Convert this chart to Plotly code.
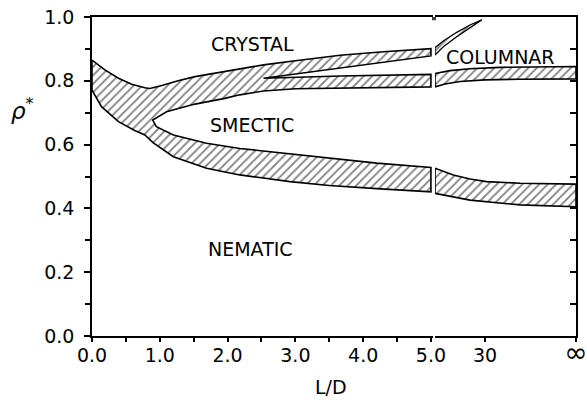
import plotly.graph_objects as go

# ---------------- data ----------------
# Left section: L/D from 0 to 5 (linear)
crys_x   = [0, 0.19, 0.39, 0.585, 0.78, 0.855, 1.03, 1.27, 1.52, 1.96, 2.18, 2.53, 3.0, 3.66, 4.3, 5.0]
crys_rho = [0.865, 0.834, 0.808, 0.789, 0.778, 0.776, 0.785, 0.800, 0.813, 0.829, 0.837, 0.850, 0.863, 0.880, 0.891, 0.901]

colt_x   = [2.53, 3.66, 5.0]          # upper edge of columnar wedge
colt_rho = [0.808, 0.840, 0.878]
colb_x   = [2.53, 3.66, 5.0]          # lower edge of columnar wedge
colb_rho = [0.808, 0.815, 0.820]

smt_x    = [0.895, 1.1, 1.3, 1.52, 1.96, 2.18, 2.53, 3.0, 4.0, 5.0]   # smectic upper boundary
smt_rho  = [0.677, 0.703, 0.715, 0.727, 0.745, 0.756, 0.768, 0.775, 0.779, 0.781]
smb_x    = [0.895, 0.95, 1.2, 1.69, 2.18, 2.92, 3.5, 4.2, 5.0]          # smectic lower boundary
smb_rho  = [0.677, 0.656, 0.630, 0.604, 0.588, 0.572, 0.558, 0.542, 0.528]

nem_x    = [0, 0.14, 0.39, 0.63, 0.78, 0.90, 1.2, 1.69, 2.18, 2.92, 3.5, 4.2, 5.0]  # nematic boundary
nem_rho  = [0.771, 0.719, 0.672, 0.644, 0.630, 0.606, 0.562, 0.526, 0.505, 0.484, 0.472, 0.462, 0.452]

# Right section: schematic axis position (0 = L/D 5, 1 = L/D 30, 2.82 = infinity)
sl_t       = [0, 0.166, 0.434, 0.7, 0.934]
sl_rho_low = [0.881, 0.907, 0.938, 0.966, 0.991]
sl_rho_up  = [0.904, 0.925, 0.952, 0.975, 0.991]

col_top_t   = [0, 0.3, 0.7, 1.3, 2.82]
col_top_rho = [0.823, 0.832, 0.838, 0.842, 0.845]
col_bot_t   = [0, 0.2, 0.5, 1.0, 1.7, 2.82]
col_bot_rho = [0.781, 0.790, 0.798, 0.803, 0.805, 0.806]

ns_top_t   = [0, 0.2, 0.366, 0.7, 1.03, 1.7, 2.82]
ns_top_rho = [0.526, 0.515, 0.505, 0.492, 0.484, 0.479, 0.476]
ns_bot_t   = [0, 0.3, 0.7, 1.7, 2.82]
ns_bot_rho = [0.447, 0.438, 0.426, 0.411, 0.405]

left_ticks  = [0, 1, 2, 3, 4, 5]
left_labels = ["0.0", "1.0", "2.0", "3.0", "4.0", "5.0"]
right_ticks  = [1.0, 2.82]
right_labels = ["30", "<span style='font-size:28px'>∞</span>"]
y_ticks  = [0, 0.2, 0.4, 0.6, 0.8, 1.0]
y_labels = ["0.0", "0.2", "0.4", "0.6", "0.8", "1.0"]

labels = [("CRYSTAL", "x", 2.37, 0.915), ("SMECTIC", "x", 2.36, 0.661),
          ("NEMATIC", "x", 2.345, 0.274), ("COLUMNAR", "x2", 1.3, 0.876)]

# ---------------- figure ----------------
FONT = "DejaVu Sans"
pat = dict(shape="/", size=6, solidity=0.3, fgcolor="black", bgcolor="white")
line = dict(color="black", width=1.6)

def rev(a):
    return list(reversed(a))

# big connected hatched region of the left section
poly_x = (crys_x + rev(colt_x) + colb_x[1:] + rev(smt_x) + smb_x[1:] + rev(nem_x) + [crys_x[0]])
poly_y = (crys_rho + rev(colt_rho) + colb_rho[1:] + rev(smt_rho) + smb_rho[1:] + rev(nem_rho) + [crys_rho[0]])

fig = go.Figure()
fig.add_trace(go.Scatter(x=poly_x, y=poly_y, mode="lines", fill="toself", fillcolor="white",
                         fillpattern=pat, line=line, xaxis="x", yaxis="y", hoverinfo="skip"))

# right section regions
sx = sl_t + rev(sl_t) + [sl_t[0]]
sy = sl_rho_low + rev(sl_rho_up) + [sl_rho_low[0]]
fig.add_trace(go.Scatter(x=sx, y=sy, mode="lines", fill="toself", fillcolor="white",
                         fillpattern=pat, line=dict(color="black", width=1.3), xaxis="x2", yaxis="y"))
cx = col_top_t + rev(col_bot_t) + [col_top_t[0]]
cy = col_top_rho + rev(col_bot_rho) + [col_top_rho[0]]
fig.add_trace(go.Scatter(x=cx, y=cy, mode="lines", fill="toself", fillcolor="white",
                         fillpattern=pat, line=line, xaxis="x2", yaxis="y"))
nx = ns_top_t + rev(ns_bot_t) + [ns_top_t[0]]
ny = ns_top_rho + rev(ns_bot_rho) + [ns_top_rho[0]]
fig.add_trace(go.Scatter(x=nx, y=ny, mode="lines", fill="toself", fillcolor="white",
                         fillpattern=pat, line=line, xaxis="x2", yaxis="y"))
# dummy trace for right-hand y axis
fig.add_trace(go.Scatter(x=[0], y=[0], mode="markers", marker=dict(opacity=0),
                         xaxis="x2", yaxis="y2", showlegend=False, hoverinfo="skip"))

axis_common = dict(showline=True, linecolor="black", linewidth=1.5, showgrid=False, zeroline=False,
                   automargin=False, ticklabeloverflow="allow", tickcolor="black", tickwidth=1.5,
                   tickfont=dict(family=FONT, size=19, color="black"))

fig.update_layout(
    width=587, height=400, showlegend=False,
    paper_bgcolor="white", plot_bgcolor="white",
    margin=dict(l=92, r=11, t=17, b=64, autoexpand=False),
    xaxis=dict(domain=[0, 0.7045], range=[0, 5.03], anchor="y", mirror=True,
               tickmode="array", tickvals=left_ticks, ticktext=left_labels,
               ticks="outside", ticklen=4, ticklabelstandoff=-3,
               minor=dict(tickvals=[0.5, 1.5, 2.5, 3.5, 4.5], ticks="outside", ticklen=4,
                          tickcolor="black", tickwidth=1.5),
               **axis_common),
    xaxis2=dict(domain=[0.7087, 1], range=[0, 2.82], anchor="y", mirror=True,
                tickmode="array", tickvals=right_ticks, ticktext=right_labels,
                ticks="outside", ticklen=4, ticklabelstandoff=-3, **axis_common),
    yaxis=dict(domain=[0, 1], range=[0, 1], anchor="x",
               tickmode="array", tickvals=y_ticks, ticktext=y_labels,
               ticks="outside", ticklen=6, ticklabelstandoff=6,
               minor=dict(tickvals=[0.1, 0.3, 0.5, 0.7, 0.9], ticks="outside", ticklen=5,
                          tickcolor="black", tickwidth=1.5),
               **axis_common),
    yaxis2=dict(range=[0, 1], anchor="x2", overlaying="y", side="right",
                tickmode="array", tickvals=[i / 10 for i in range(11)], ticks="inside",
                ticklen=6, showticklabels=False, **axis_common),
)

# small hooks at the axis break
for xr, xv in (("x domain", 1.0), ("x2 domain", 0.0)):
    fig.add_shape(type="line", xref=xr, yref="y domain", x0=xv, x1=xv, y0=1.0, y1=0.99,
                  line=dict(color="black", width=1.5))

for txt, xr, xv, yv in labels:
    fig.add_annotation(text=txt, x=xv, y=yv, xref=xr, yref="y", showarrow=False,
                       font=dict(family=FONT, size=19, color="black"))

fig.add_annotation(text="L/D", x=0.494, y=-0.161, xref="paper", yref="paper", showarrow=False,
                   xanchor="center", yanchor="middle",
                   font=dict(family=FONT, size=19, color="black"))
fig.add_annotation(text="<i>ρ</i><sup>*</sup>", x=-0.172, y=0.765, xref="paper", yref="paper",
                   showarrow=False, xanchor="left", yanchor="top",
                   font=dict(family=FONT, size=23, color="black"))

# remove the page's default body margin so the 587x400 figure fills the window exactly
fig.write_html("out.html", config={"displayModeBar": False},
               post_script="document.body.style.margin='0';")
